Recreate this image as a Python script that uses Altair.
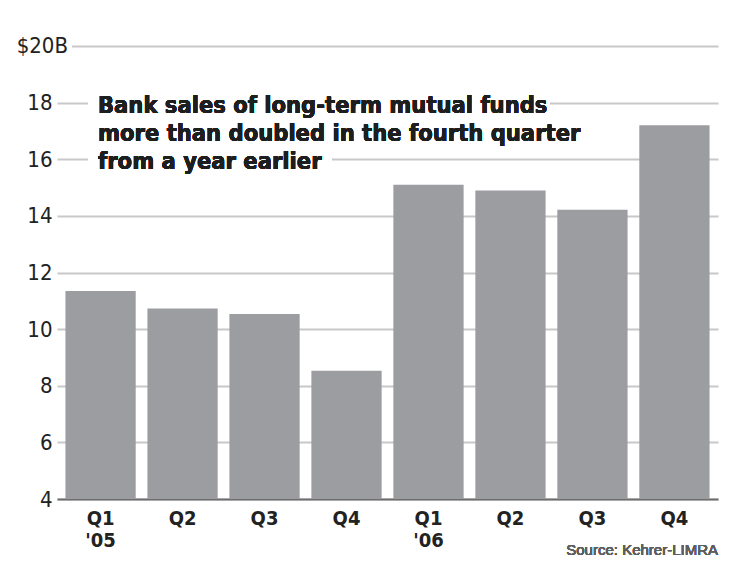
import altair as alt
import pandas as pd

quarters = ["Q1", "Q2", "Q3", "Q4", "Q1", "Q2", "Q3", "Q4"]
years = ["'05", "'05", "'05", "'05", "'06", "'06", "'06", "'06"]
sales = [11.35, 10.73, 10.53, 8.53, 15.1, 14.9, 14.22, 17.2]
y_ticks = [4, 6, 8, 10, 12, 14, 16, 18, 20]
note_lines = [
    "Bank sales of long-term mutual funds",
    "more than doubled in the fourth quarter",
    "from a year earlier",
]
source_text = "Source: Kehrer-LIMRA"
top_label = "$20B"

periods = [f"{q} {y}" for q, y in zip(quarters, years)]
df = pd.DataFrame({"period": periods, "sales": sales})

NARROW = "Liberation Sans Narrow, DejaVu Sans Condensed, sans-serif"
W, H = 661, 453

x_enc = alt.X(
    "period:N",
    sort=periods,
    scale=alt.Scale(paddingInner=0.143, paddingOuter=0.103),
    axis=alt.Axis(
        title=None,
        labelAngle=0,
        ticks=False,
        domainColor="#6e6e6e",
        domainWidth=2,
        labelFont=NARROW,
        labelFontSize=20,
        labelFontWeight="bold",
        labelColor="#222222",
        labelPadding=9,
        labelLineHeight=22,
        labelExpr="indexof(datum.label, 'Q1') == 0 ? split(datum.label, ' ') : slice(datum.label, 0, 2)",
    ),
)
y_enc = alt.Y(
    "sales:Q",
    scale=alt.Scale(domain=[4, 20], nice=False, zero=False),
    axis=alt.Axis(
        title=None,
        values=y_ticks,
        ticks=False,
        domain=False,
        gridColor="#c8c8c8",
        gridWidth=2,
        labelFont=NARROW,
        labelFontSize=22,
        labelColor="#222222",
        labelPadding=5,
        labelExpr="datum.value == 20 ? '' : datum.label",
    ),
)

bars = alt.Chart(df).mark_bar(color="#9c9da1", clip=True).encode(
    x=x_enc, y=y_enc, y2=alt.datum(4)
)

# white masks hiding gridlines behind the note and the top label
mask1 = alt.Chart(df).mark_rect(color="white").encode(
    x=alt.value(31), x2=alt.value(493), y=alt.value(48), y2=alt.value(66)
)
mask2 = alt.Chart(df).mark_rect(color="white").encode(
    x=alt.value(31), x2=alt.value(275), y=alt.value(105), y2=alt.value(121)
)
mask3 = alt.Chart(df).mark_rect(color="white").encode(
    x=alt.value(0), x2=alt.value(15), y=alt.value(-5), y2=alt.value(5)
)

note = alt.Chart(df).mark_text(
    align="left", baseline="alphabetic", font=NARROW, fontSize=23.5,
    fontWeight="bold", lineHeight=28, color="#1e1e1e",
).encode(x=alt.value(41), y=alt.value(67), text=alt.value(note_lines))

top_df = pd.DataFrame({"v": [20], "t": [top_label]})
top_text = alt.Chart(top_df).mark_text(
    align="right", baseline="middle", font=NARROW, fontSize=22,
    fontWeight=500, color="#222222",
).encode(x=alt.value(11), y=alt.Y("v:Q"), text="t:N")

source = alt.Chart(df).mark_text(
    align="right", baseline="alphabetic", font="Liberation Sans, Arial, sans-serif",
    fontSize=15, fontWeight="normal", color="#5e5e5e",
).encode(x=alt.value(W), y=alt.value(H + 56), text=alt.value(source_text))

chart = (
    alt.layer(bars, mask1, mask2, mask3, note, top_text, source)
    .properties(
        width=W,
        height=H,
        autosize=alt.AutoSizeParams(type="none"),
        padding={"left": 49, "top": 38, "right": 14, "bottom": 70},
        background="white",
    )
    .configure_view(stroke=None)
)

chart.save("out.html", embed_options={"renderer": "svg", "actions": False})
